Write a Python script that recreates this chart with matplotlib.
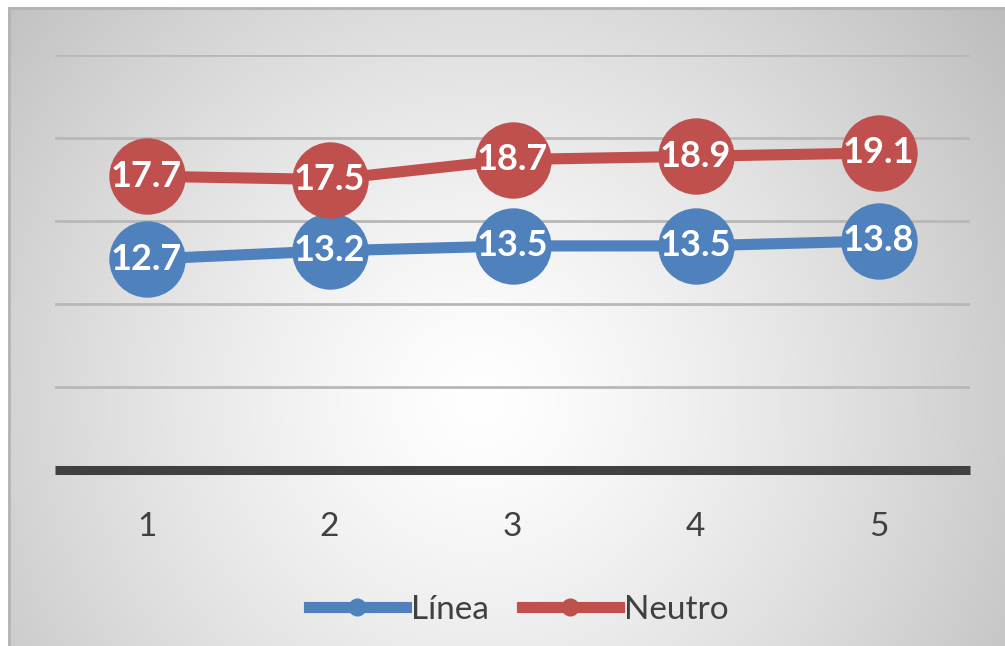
import numpy as np
import matplotlib.pyplot as plt
from matplotlib.lines import Line2D

categorias = ["1", "2", "3", "4", "5"]
linea = [12.7, 13.2, 13.5, 13.5, 13.8]
neutro = [17.7, 17.5, 18.7, 18.9, 19.1]

azul = "#4F81BD"
rojo = "#C0504D"
gris_texto = "#404040"

W, H = 1005, 646
fig = plt.figure(figsize=(W / 100, H / 100), dpi=100)
fig.patch.set_facecolor("white")

# fondo con degradado radial (blanco al centro, gris en las esquinas)
x0, y0 = 8, 7
bg = fig.add_axes([x0 / W, 0, (W - x0) / W, (H - y0) / H])
bg.set_axis_off()
px = np.arange(x0, W)
py = np.arange(y0, H)
gx, gy = np.meshgrid(px, py)
cx, cy = 480, 400
d = np.hypot(gx - cx, gy - cy)
d = d / np.hypot(cx - x0, cy - y0)
v = np.clip(1.0 - 0.24 * d ** 1.3, 0, 1)
bg.imshow(np.dstack([v, v, v]), aspect="auto", extent=(0, 1, 0, 1), origin="upper")
bg.set_xlim(0, 1)
bg.set_ylim(0, 1)
bg.plot([0.001, 0.001], [0, 1], color="#b4b4b4", lw=2)
bg.plot([0, 1], [0.998, 0.998], color="#b4b4b4", lw=2)

# zona de trazado
ax = fig.add_axes([55 / W, 1 - 470 / H, 915 / W, 415 / H])
ax.set_facecolor("none")
for s in ax.spines.values():
    s.set_visible(False)
ax.set_xlim(0.5, 5.5)
ax.set_ylim(0, 25)
ax.set_yticks([5, 10, 15, 20, 25])
ax.yaxis.grid(True, color="#b8b8b8", lw=2)
ax.tick_params(axis="y", length=0, labelleft=False)
ax.axhline(0, color=gris_texto, lw=6.5, clip_on=False, zorder=3, solid_capstyle="butt")

x = np.arange(1, len(categorias) + 1)
ax.set_xticks(x)
ax.set_xticklabels(categorias)
ax.tick_params(axis="x", length=0, pad=30, labelsize=24, labelcolor=gris_texto)
for t in ax.get_xticklabels():
    t.set_fontfamily("Lato")

for serie, color in [(linea, azul), (neutro, rojo)]:
    ax.plot(x, serie, color=color, lw=8, marker="o", ms=54, zorder=4, clip_on=False)
    for xi, yi in zip(x, serie):
        ax.text(xi, yi, f"{yi:.1f}", color="white", fontsize=26, fontweight="bold",
                family="Lato", ha="center", va="center", zorder=5)

handles = [
    Line2D([], [], color=azul, lw=8, marker="o", ms=12),
    Line2D([], [], color=rojo, lw=8, marker="o", ms=12),
]
fig.legend(handles, ["Línea", "Neutro"], loc="center", bbox_to_anchor=(0.516, 0.056),
           ncol=2, frameon=False, handlelength=2.9, handletextpad=0.15,
           columnspacing=1.0, prop={"family": "Lato", "size": 24},
           labelcolor=gris_texto)

fig.savefig("out.png", dpi=100)
